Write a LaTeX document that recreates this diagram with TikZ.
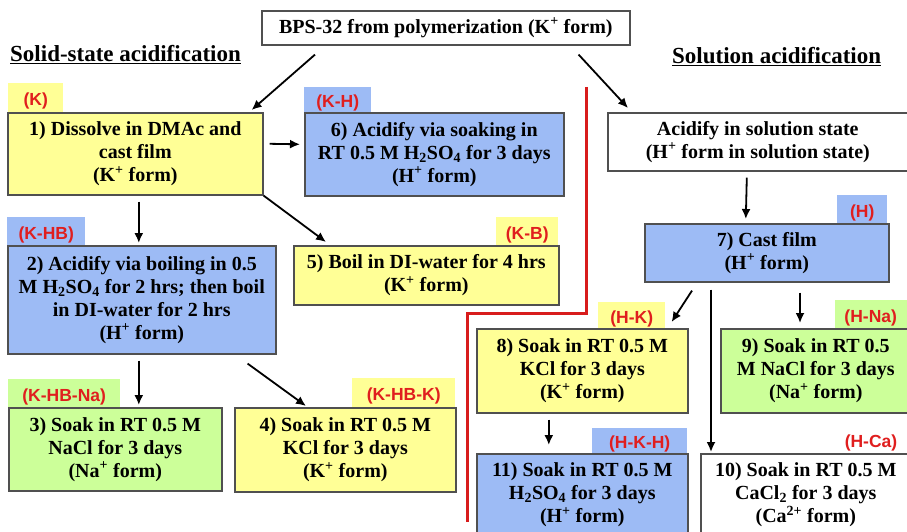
\documentclass[tikz,border=0pt]{standalone}
\usepackage{fontspec}
\setmainfont{Liberation Serif}
\newfontfamily\tagfont{Liberation Sans}
\usetikzlibrary{arrows.meta}
\definecolor{yel}{HTML}{FFFF96}
\definecolor{blu}{HTML}{9DBBF5}
\definecolor{grn}{HTML}{CCFF99}
\definecolor{bord}{HTML}{505050}
\definecolor{tagred}{HTML}{E01E1E}
\definecolor{divred}{HTML}{D81C1C}
\newcommand{\Hp}{H\textsuperscript{+}}
\newcommand{\Kp}{K\textsuperscript{+}}
\newcommand{\hso}{H\textsubscript{2}SO\textsubscript{4}}
\newcommand{\tg}[1]{\raisebox{-8pt}[0pt][0pt]{#1}}
\begin{document}
\begin{tikzpicture}[x=1pt,y=-1pt,
  box/.style={draw=bord, line width=1.6pt, inner sep=0pt, align=center, anchor=north west,
    font=\fontsize{20}{23}\selectfont\bfseries},
  tab/.style={inner sep=0pt, anchor=north west, text=tagred,
    font=\tagfont\fontsize{17.5}{20}\selectfont\bfseries},
  tag/.style={inner sep=0pt, text=tagred, font=\tagfont\fontsize{17.5}{20}\selectfont\bfseries},
  arr/.style={-{Latex[length=10pt,width=9pt]}, line width=1.8pt},
  head/.style={inner sep=0pt, anchor=west, font=\fontsize{23}{26}\selectfont\bfseries}]
\useasboundingbox (0,0) rectangle (907,532);
\clip (0,0) rectangle (907,532);
\fill[white] (0,0) rectangle (907,532);

% headings
\node[head] (hl) at (10,55) {\underline{Solid-state acidification}};
\node[head] (hr) at (672,57) {\underline{Solution acidification}};

% top box
\node[box, fill=white, minimum width=368pt, minimum height=34pt] (top) at (261,10)
  {BPS-32 from polymerization (\Kp{} form)};

% tabs
\node[tab, fill=yel, minimum width=55pt, minimum height=29pt] (t1) at (8,83) {\tg{(K)}};
\node[tab, fill=blu, minimum width=67pt, minimum height=25pt] (t6) at (304,87) {\tg{(K-H)}};
\node[tab, fill=blu, minimum width=50pt, minimum height=28pt] (t7) at (837,195) {\tg{(H)}};
\node[tab, fill=yel, minimum width=62pt, minimum height=28pt] (t5) at (496,217) {\tg{(K-B)}};
\node[tab, fill=blu, minimum width=78pt, minimum height=28pt] (t2) at (7,217) {\tg{(K-HB)}};
\node[tab, fill=grn, minimum width=112pt, minimum height=28pt] (t3) at (8,379) {\tg{(K-HB-Na)}};
\node[tab, fill=yel, minimum width=103pt, minimum height=29pt] (t4) at (352,378) {\tg{(K-HB-K)}};
\node[tab, fill=yel, minimum width=67pt, minimum height=26pt] (t8) at (598,302) {\tg{(H-K)}};
\node[tab, fill=grn, minimum width=75pt, minimum height=28pt] (t9) at (835,300) {\hspace*{-4pt}\tg{(H-Na)}};
\node[tab, fill=blu, minimum width=95pt, minimum height=25pt] (t11) at (592,428) {\tg{(H-K-H)}};
\node[tag] (t10) at (871,443) {(H-Ca)};

% boxes
\node[box, fill=yel, minimum width=255pt, minimum height=82pt] (b1) at (7,112)
  {1) Dissolve in DMAc and\\cast film\\(\Kp{} form)};
\node[box, fill=blu, minimum width=259pt, minimum height=83pt] (b6) at (304,112)
  {6) Acidify via soaking in\\RT 0.5 M \hso{} for 3 days\\(\Hp{} form)};
\node[box, fill=white, minimum width=300pt, minimum height=58pt] (sol) at (607,112)
  {Acidify in solution state\\(\Hp{} form in solution state)};
\node[box, fill=blu, minimum width=244pt, minimum height=58pt] (b7) at (644,223)
  {7) Cast film\\(\Hp{} form)};
\node[box, fill=yel, minimum width=265pt, minimum height=59pt] (b5) at (293,245)
  {5) Boil in DI-water for 4 hrs\\(\Kp{} form)};
\node[box, fill=blu, minimum width=268pt, minimum height=108pt] (b2) at (7,245)
  {2) Acidify via boiling in 0.5\\M \hso{} for 2 hrs; then boil\\in DI-water for 2 hrs\\(\Hp{} form)};
\node[box, fill=grn, minimum width=213pt, minimum height=83pt] (b3) at (8,407)
  {3) Soak in RT 0.5 M\\NaCl for 3 days\\(Na\textsuperscript{+} form)};
\node[box, fill=yel, minimum width=221pt, minimum height=84pt] (b4) at (234,407)
  {4) Soak in RT 0.5 M\\KCl for 3 days\\(\Kp{} form)};
\node[box, fill=yel, minimum width=211pt, minimum height=84pt] (b8) at (476,328)
  {8) Soak in RT 0.5 M\\KCl for 3 days\\(\Kp{} form)};
\node[box, fill=grn, minimum width=190pt, minimum height=84pt] (b9) at (720,328)
  {9) Soak in RT 0.5\\M NaCl for 3 days\\(Na\textsuperscript{+} form)};
\node[box, fill=blu, minimum width=211pt, minimum height=82pt] (b11) at (476,453)
  {11) Soak in RT 0.5 M\\\hso{} for 3 days\\(\Hp{} form)};
\node[box, fill=white, minimum width=210pt, minimum height=82pt] (b10) at (700,453)
  {10) Soak in RT 0.5 M\\CaCl\textsubscript{2} for 3 days\\(Ca\textsuperscript{2+} form)};

% divider
\draw[divred, line width=3pt] (586,87) -- (586,313) -- (467,313) -- (467,522);

% arrows
\draw[arr] ([shift={(54pt,-9pt)}]top.south west) -- ([shift={(-12pt,2pt)}]b1.north east);
\draw[arr] ([shift={(-52pt,-9pt)}]top.south east) -- ([shift={(21pt,4pt)}]sol.north west);
\draw[arr] ([shift={(6pt,10pt)}]b1.east) -- ([shift={(-4pt,10pt)}]b6.west);
\draw[arr] ([shift={(3.5pt,-6pt)}]b1.south) -- ([shift={(-3pt,2pt)}]b2.north);
\draw[arr] (b1.south east) -- ([shift={(33pt,3pt)}]b5.north west);
\draw[arr] ([shift={(-3pt,-6pt)}]b2.south) -- ([shift={(23.5pt,2pt)}]b3.north);
\draw[arr] ([shift={(-29pt,-9pt)}]b2.south east) -- ([shift={(72pt,1pt)}]b4.north west);
\draw[arr] ([shift={(-11pt,-6pt)}]sol.south) -- ([shift={(-21pt,4pt)}]b7.north);
\draw[arr] ([shift={(48pt,-8pt)}]b7.south west) -- ([shift={(-17pt,6pt)}]b8.north east);
\draw[arr] ([shift={(67pt,-7pt)}]b7.south west) -- ([shift={(11pt,1pt)}]b10.north west);
\draw[arr] ([shift={(156pt,-10pt)}]b7.south west) -- ([shift={(80pt,5pt)}]b9.north west);
\draw[arr] ([shift={(-33.5pt,-6pt)}]b8.south) -- ([shift={(-33.5pt,8pt)}]b11.north);
\end{tikzpicture}
\end{document}
